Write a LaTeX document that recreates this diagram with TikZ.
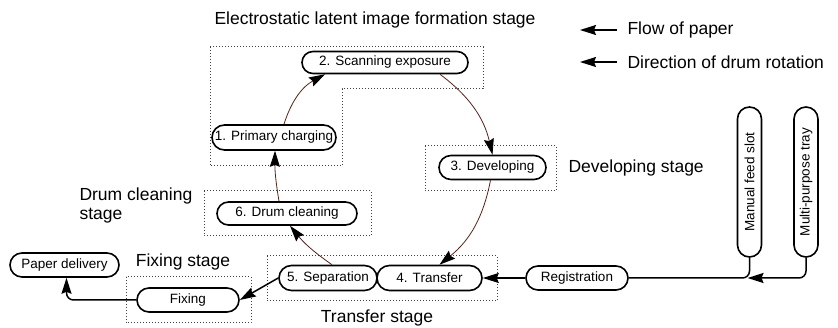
\documentclass[tikz,border=0pt]{standalone}
\usepackage{fontspec}
\setmainfont{Liberation Sans}
\usepackage{tikz}
\usetikzlibrary{shapes,shapes.misc,arrows.meta,calc,positioning}
\usepackage{xcolor}
\definecolor{drumbrown}{RGB}{85,35,25}

\begin{document}
\begin{tikzpicture}[x=1pt,y=-1pt,
	  every node/.style={align=center,text=black},
	  process/.style={rounded rectangle,draw=black,line width=1.6pt,inner sep=0pt,minimum height=23pt,font=\fontsize{13.5}{15}\selectfont},
	  feeder/.style={process,rotate=90,minimum height=24pt,minimum width=150pt},
	  stage/.style={draw=black!75,dotted,line width=1pt},
	  stagelabel/.style={font=\fontsize{17.5}{19}\selectfont},
	  drum/.style={-{Stealth[length=16pt,width=10pt,inset=2pt,color=black]},draw=drumbrown,line width=0.8pt},
	  paper/.style={draw=black,line width=1.5pt,rounded corners=7pt},
	  paperto/.style={paper,-{Stealth[length=16pt,width=10pt,inset=2pt]}}]

	  \useasboundingbox (0,0) rectangle (838,328);

	  % Stage boxes
	  \draw[stage] (210,47) -- (483,47) -- (483,89) -- (342,89) -- (342,166) -- (210,166) -- cycle;
	  \draw[stage] (425,146) rectangle (556,191);
	  \draw[stage] (204,191) rectangle (371,236);
	  \draw[stage] (267,256) rectangle (497,301);
	  \draw[stage] (126,277) rectangle (251,323);

	  % Stage labels
	  \node[stagelabel] (formationlabel) at (375,20) {Electrostatic latent image formation stage};
	  \node[stagelabel,anchor=west] (developinglabel) at (565,168) {Developing stage};
	  \node[stagelabel,anchor=west,align=left] (cleaninglabel) at (76,205) {Drum cleaning\\stage};
	  \node[stagelabel] (fixinglabel) at (183,262) {Fixing stage};
	  \node[stagelabel] (transferlabel) at (377,318) {Transfer stage};

	  % Process steps
	  \node[process,minimum width=166pt,minimum height=22pt] (scanning) at (385,62.5) {2. Scanning exposure};
	  \node[process,minimum width=124pt,minimum height=25pt] (charging) at (274,137.5) {1. Primary charging};
	  \node[process,minimum width=107pt,minimum height=24pt] (developing) at (492.5,167.5) {3. Developing};
	  \node[process,minimum width=140pt] (cleaning) at (287,213.5) {6. Drum cleaning};
	  \node[process,minimum width=98pt,minimum height=25pt] (separation) at (328,278) {5. Separation};
	  \node[process,minimum width=105pt,minimum height=25pt] (transfer) at (429.5,278) {4. Transfer};
	  \node[process,minimum width=102pt,minimum height=24pt] (registration) at (577,278) {Registration};
	  \node[process,minimum width=102pt,minimum height=24pt] (fixing) at (188,300) {Fixing};
	  \node[process,minimum width=109pt,minimum height=24pt] (delivery) at (64.5,265) {Paper delivery};
	  \node[feeder] (manual) at (749.5,182) {Manual feed slot};
	  \node[feeder] (tray) at (806,182) {Multi-purpose tray};

	  % Direction of drum rotation
	  \draw[drum] ([xshift=10pt]charging.north) to[bend left=22] ([xshift=-60pt]scanning.south);
	  \draw[drum] ([xshift=55pt]scanning.south) to[bend left=20] (developing.north);
	  \draw[drum] ([xshift=-2pt]developing.south) to[bend left=20] ([xshift=10pt]transfer.north);
	  \draw[drum] ([xshift=4pt]separation.north) to[bend left=8] ([xshift=3pt]cleaning.south);
	  \draw[drum] ([xshift=-8pt]cleaning.north) to[bend left=5] ([xshift=1pt]charging.south);

	  % Flow of paper
	  \coordinate (feedjoin) at ([xshift=-2pt]manual.west |- registration.east);
	  \draw[paper] (manual.west) |- (registration.east);
	  \draw[paperto] (tray.west) |- (feedjoin);
	  \draw[paperto] (registration.west) -- (transfer.east);
	  \draw[paperto] (separation.west) -- (fixing.east);
	  \draw[paperto] (fixing.west) -| ([xshift=2pt]delivery.south);

	  % Legend
	  \coordinate (paperstart) at (617,30);
	  \coordinate (paperend) at (580,30);
	  \coordinate (drumstart) at (617,62);
	  \coordinate (drumend) at (580,62);
	  \draw[paperto] (paperstart) -- (paperend);
	  \draw[paperto,line width=1.2pt] (drumstart) -- (drumend);
	  \node[stagelabel,anchor=west] (paperlegend) at (624,30) {Flow of paper};
	  \node[stagelabel,anchor=west] (drumlegend) at (624,62) {Direction of drum rotation};
\end{tikzpicture}
\end{document}
